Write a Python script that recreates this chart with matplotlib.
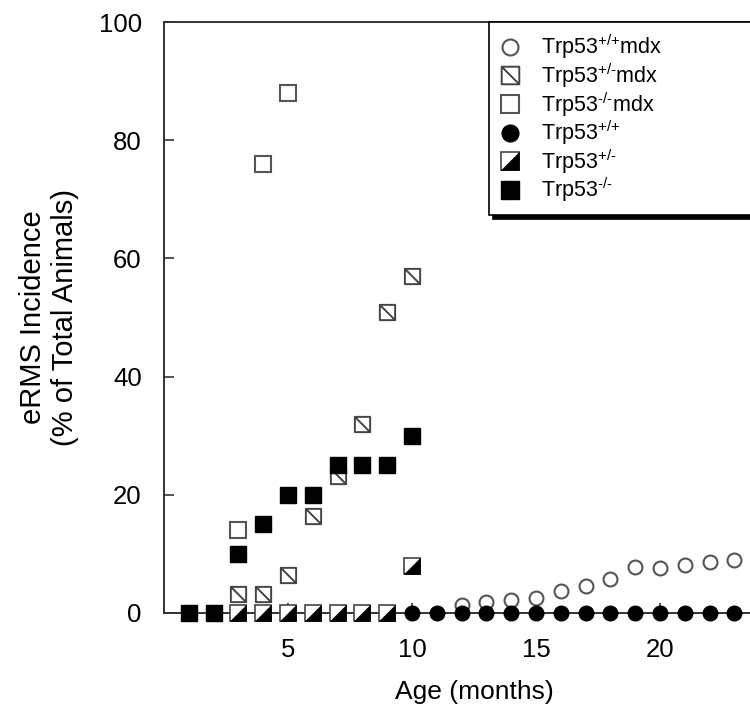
import matplotlib
matplotlib.use("Agg")
import matplotlib.pyplot as plt
from matplotlib.path import Path
from matplotlib.legend_handler import HandlerTuple

plt.rcParams['font.family'] = ['Liberation Sans', 'DejaVu Sans']
plt.rcParams['mathtext.fontset'] = 'custom'
plt.rcParams['mathtext.rm'] = 'Liberation Sans'
plt.rcParams['mathtext.it'] = 'Liberation Sans'
plt.rcParams['mathtext.default'] = 'regular'

# data (age in months, incidence in %)
wt_mdx_age = [12, 13, 14, 15, 16, 17, 18, 19, 20, 21, 22, 23, 24]
wt_mdx_val = [1.3, 1.9, 2.2, 2.5, 3.8, 4.5, 5.8, 7.7, 7.6, 8.1, 8.7, 9.0, 9.5]

het_mdx_age = [3, 4, 5, 6, 7, 8, 9, 10]
het_mdx_val = [3.2, 3.2, 6.4, 16.4, 23.2, 32, 51, 57]

ko_mdx_age = [3, 4, 5]
ko_mdx_val = [14, 76, 88]

wt_age = [10, 11, 12, 13, 14, 15, 16, 17, 18, 19, 20, 21, 22, 23, 24]
wt_val = [0] * 15

het_age = [3, 4, 5, 6, 7, 8, 9, 10]
het_val = [0, 0, 0, 0, 0, 0, 0, 8]

ko_age = [1, 2, 3, 4, 5, 6, 7, 8, 9, 10]
ko_val = [0, 0, 10, 15, 20, 20, 25, 25, 25, 30]

# hyphen instead of the math minus
HY = '\u2010'
labels = ["Trp53$^{{+}/{+}}$mdx",
          "Trp53$^{{+}/{" + HY + "}}$mdx",
          "Trp53$^{{" + HY + "}/{" + HY + "}}$mdx",
          "Trp53$^{{+}/{+}}$",
          "Trp53$^{{+}/{" + HY + "}}$",
          "Trp53$^{{" + HY + "}/{" + HY + "}}$"]

# custom markers: square with a diagonal, and the lower-right half triangle
sq_diag = Path([(-1, -1), (1, -1), (1, 1), (-1, 1), (-1, -1), (-1, 1), (1, -1)],
               [Path.MOVETO, Path.LINETO, Path.LINETO, Path.LINETO, Path.CLOSEPOLY,
                Path.MOVETO, Path.LINETO])
half_tri = Path([(-1, -1), (1, -1), (1, 1), (-1, -1)],
                [Path.MOVETO, Path.LINETO, Path.LINETO, Path.CLOSEPOLY])

fig = plt.figure(figsize=(7.5, 7.09), dpi=100)
ax = fig.add_axes([164 / 750, 1 - 613 / 709, 620 / 750, 591 / 709])

ms = 11
h1, = ax.plot(wt_mdx_age, wt_mdx_val, 'o', ms=10, mfc='white', mec='#555555', mew=1.5,
              ls='none', clip_on=False, zorder=3)
h4, = ax.plot(wt_age, wt_val, 'o', ms=10.5, mfc='black', mec='black', ls='none',
              clip_on=False, zorder=4)
h2, = ax.plot(het_mdx_age, het_mdx_val, marker=sq_diag, ms=ms, mfc='white', mec='#444444',
              mew=1.4, ls='none', clip_on=False, zorder=5)
h3, = ax.plot(ko_mdx_age, ko_mdx_val, 's', ms=ms, mfc='white', mec='#555555', mew=1.5,
              ls='none', clip_on=False, zorder=5)
h5a, = ax.plot(het_age, het_val, 's', ms=ms, mfc='white', mec='#444444', mew=1.2,
               ls='none', clip_on=False, zorder=6)
h5b, = ax.plot(het_age, het_val, marker=half_tri, ms=ms, mfc='black', mec='black', mew=0.5,
               ls='none', clip_on=False, zorder=7)
h6, = ax.plot(ko_age, ko_val, 's', ms=ms, mfc='black', mec='black', ls='none',
              clip_on=False, zorder=6)

ax.set_xlim(0, 25)
ax.set_ylim(0, 100)
ax.set_xticks([5, 10, 15, 20])
ax.set_yticks([0, 20, 40, 60, 80, 100])

for side in ['left', 'bottom', 'top', 'right']:
    ax.spines[side].set_color('#333333')
    ax.spines[side].set_linewidth(1.4)

ax.tick_params(direction='in', length=7, width=1.2, color='#333333', labelsize=18.5)
ax.tick_params(axis='y', pad=16)
ax.tick_params(axis='x', pad=18)

ax.set_xlabel("Age (months)", fontsize=19, labelpad=13)
ax.set_ylabel("eRMS Incidence\n(% of Total Animals)", fontsize=21, labelpad=14, linespacing=1.2)

leg = ax.legend([h1, h2, h3, h4, (h5a, h5b), h6], labels,
                handler_map={tuple: HandlerTuple(ndivide=1)},
                loc='upper left', bbox_to_anchor=(0.524, 0.0, 0.6, 1.0), mode='expand',
                borderaxespad=0, fontsize=15.5, frameon=True, fancybox=False,
                edgecolor='black', labelspacing=0.0, handlelength=1.0,
                handletextpad=0.9, borderpad=0.5, markerscale=1.15,
                shadow={'ox': 3, 'oy': -3, 'color': 'black', 'alpha': 1})
leg.get_frame().set_linewidth(1.2)
leg.set_zorder(10)

fig.savefig("out.png", dpi=100)
